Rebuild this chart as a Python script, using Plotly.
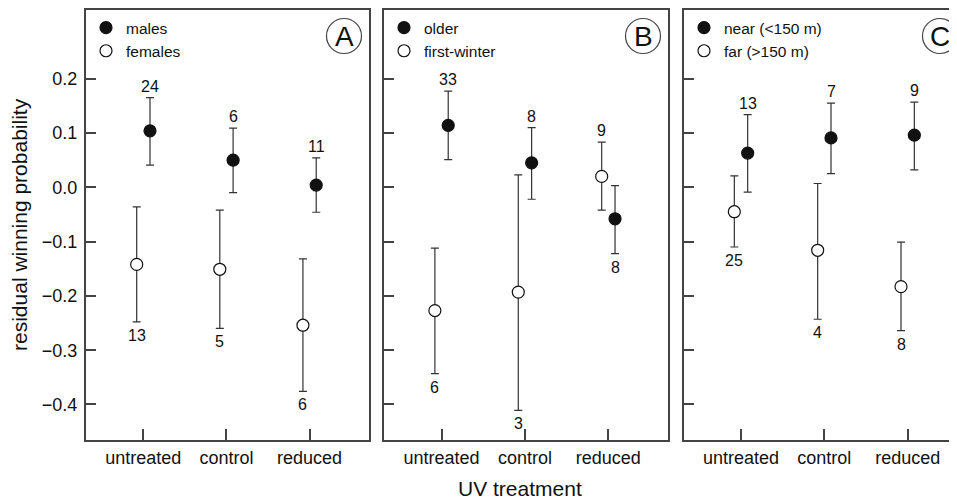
import plotly.graph_objects as go

# ---------------- data ----------------
categories = ["untreated", "control", "reduced"]
cat_pos = [1, 2, 3]

# Panel A: sex
a_male_mean = [0.104, 0.050, 0.004]
a_male_upper = [0.165, 0.109, 0.054]
a_male_lower = [0.041, -0.010, -0.046]
a_male_n = ["24", "6", "11"]
a_female_mean = [-0.142, -0.151, -0.254]
a_female_upper = [-0.036, -0.042, -0.132]
a_female_lower = [-0.248, -0.260, -0.376]
a_female_n = ["13", "5", "6"]

# Panel B: age
b_older_mean = [0.114, 0.045, -0.058]
b_older_upper = [0.177, 0.110, 0.003]
b_older_lower = [0.051, -0.022, -0.122]
b_older_n = ["33", "8", "8"]
b_fw_mean = [-0.227, -0.193, 0.020]
b_fw_upper = [-0.112, 0.023, 0.083]
b_fw_lower = [-0.343, -0.411, -0.042]
b_fw_n = ["6", "3", "9"]

# Panel C: distance
c_near_mean = [0.063, 0.091, 0.096]
c_near_upper = [0.134, 0.155, 0.157]
c_near_lower = [-0.009, 0.025, 0.032]
c_near_n = ["13", "7", "9"]
c_far_mean = [-0.045, -0.116, -0.183]
c_far_upper = [0.021, 0.007, -0.101]
c_far_lower = [-0.110, -0.243, -0.264]
c_far_n = ["25", "4", "8"]

y_tick_vals = [-0.4, -0.3, -0.2, -0.1, 0.0, 0.1, 0.2]

# ---------------- layout helpers ----------------
# The page body has an 8px margin, so the figure is sized to the visible area
BODY = 8
W, H = 957 - BODY, 501 - BODY
ML, MR, MT, MB = 86 - BODY, 0, 10 - BODY, 501 - 440
PW, PH = W - ML - MR, H - MT - MB


def px_x(p):  # screen pixel -> paper
    return (p - BODY - ML) / PW


def px_y(p):
    return (H - MB - (p - BODY)) / PH


FONT = "Liberation Sans, Arial, Helvetica, sans-serif"
AX = "#444444"
INK = "#111111"

panels = [
    dict(letter="A", names=("males", "females"),
         filled=(a_male_mean, a_male_upper, a_male_lower, a_male_n, ["up", "up", "up"]),
         open=(a_female_mean, a_female_upper, a_female_lower, a_female_n, ["down", "down", "down"]),
         dom=(86, 369), xr=[0.31, 3.715], circ=(344, 36), mirror_y=True, leg=86),
    dict(letter="B", names=("older", "first-winter"),
         filled=(b_older_mean, b_older_upper, b_older_lower, b_older_n, ["up", "up", "down"]),
         open=(b_fw_mean, b_fw_upper, b_fw_lower, b_fw_n, ["down", "down", "up"]),
         dom=(384, 668), xr=[0.31, 3.715], circ=(643, 36), mirror_y=True, leg=384),
    dict(letter="C", names=("near (<150 m)", "far (>150 m)"),
         filled=(c_near_mean, c_near_upper, c_near_lower, c_near_n, ["up", "up", "up"]),
         open=(c_far_mean, c_far_upper, c_far_lower, c_far_n, ["down", "down", "down"]),
         dom=(684, 957), xr=[0.316, 3.592], circ=(940, 36), mirror_y=False, leg=684),
]

OFFSET = 0.08
fig = go.Figure()
annotations = []
shapes = []
layout_axes = {}

for i, p in enumerate(panels):
    k = "" if i == 0 else str(i + 1)
    xa, ya = "x" + k, "y" + k
    legname = "legend" + k
    for kind, sign, fillc in (("filled", 1, INK), ("open", -1, "white")):
        mean, up, lo, ns, sides = p[kind]
        xs = [c + sign * OFFSET for c in cat_pos]
        fig.add_trace(go.Scatter(
            x=xs, y=mean, mode="markers",
            name=p["names"][0] if kind == "filled" else p["names"][1],
            xaxis=xa, yaxis=ya, legend=legname,
            marker=dict(size=12, color=fillc, line=dict(color=INK, width=1.2)),
            error_y=dict(type="data", symmetric=False,
                         array=[u - m for u, m in zip(up, mean)],
                         arrayminus=[m - l for m, l in zip(mean, lo)],
                         color="#333333", thickness=1.2, width=4),
            cliponaxis=False,
        ))
        for x, u, l, n, s in zip(xs, up, lo, ns, sides):
            annotations.append(dict(
                x=x, y=u if s == "up" else l, xref=xa, yref=ya,
                text=n, showarrow=False,
                yanchor="bottom" if s == "up" else "top",
                yshift=1 if s == "up" else -3,
                font=dict(size=16, color=INK, family=FONT)))
    d0, d1 = p["dom"]
    layout_axes["xaxis" + k] = dict(
        domain=[px_x(d0), min(1.0, px_x(d1))], range=p["xr"], anchor=ya,
        tickvals=cat_pos, ticktext=categories, ticks="inside", ticklen=11,
        tickwidth=1.5, tickcolor=AX, showline=True, linecolor=AX, linewidth=2,
        mirror=True, showgrid=False, zeroline=False, ticklabelstandoff=0,
        tickfont=dict(size=18, color=INK, family=FONT))
    layout_axes["yaxis" + k] = dict(
        domain=[0, 1], range=[-0.4654, 0.3265], anchor=xa,
        tickvals=y_tick_vals, tickformat=".1f", showticklabels=(i == 0),
        ticks="inside", ticklen=10, tickwidth=1.5, tickcolor=AX,
        showline=True, linecolor=AX, linewidth=2, mirror=p["mirror_y"],
        showgrid=False, zeroline=False, ticklabelstandoff=3,
        tickfont=dict(size=18, color=INK, family=FONT))
    layout_axes[legname] = dict(
        x=px_x(p["leg"]), y=px_y(11), xanchor="left", yanchor="top",
        bgcolor="rgba(0,0,0,0)", borderwidth=0, itemwidth=30,
        font=dict(size=15.5, color=INK, family=FONT), tracegroupgap=0,
        itemclick=False, itemdoubleclick=False)
    cx, cy = p["circ"]
    r = 17.5
    shapes.append(dict(type="circle", xref="paper", yref="paper",
                       x0=px_x(cx - r), x1=px_x(cx + r),
                       y0=px_y(cy + r), y1=px_y(cy - r),
                       line=dict(color=AX, width=1.2)))
    annotations.append(dict(x=px_x(cx), y=px_y(cy + 1), xref="paper", yref="paper",
                            text=p["letter"], showarrow=False,
                            xanchor="center", yanchor="middle",
                            font=dict(size=28, color=INK, family=FONT)))

annotations.append(dict(x=px_x(19), y=px_y(225), xref="paper", yref="paper",
                        text="residual winning probability", textangle=-90,
                        showarrow=False, xanchor="center", yanchor="middle",
                        font=dict(size=21, color=INK, family=FONT)))
annotations.append(dict(x=px_x(520), y=px_y(488), xref="paper", yref="paper",
                        text="UV treatment", showarrow=False,
                        xanchor="center", yanchor="middle",
                        font=dict(size=21, color=INK, family=FONT)))

fig.update_layout(
    width=W, height=H, margin=dict(l=ML, r=MR, t=MT, b=MB, autoexpand=False),
    paper_bgcolor="white", plot_bgcolor="white",
    showlegend=True, annotations=annotations, shapes=shapes,
    font=dict(family=FONT, color=INK),
    **layout_axes,
)

fig.write_html("out.html")
